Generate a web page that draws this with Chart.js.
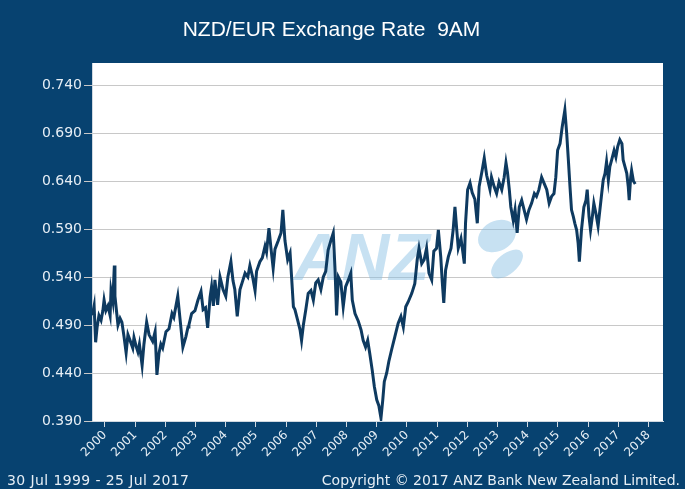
<!DOCTYPE html>
<html>
<head>
<meta charset="utf-8">
<script src="https://cdn.jsdelivr.net/npm/chart.js@4"></script>
<style>
  body { margin: 0; background: #074270; }
  #wrap { position: relative; width: 685px; height: 489px; }
  .foot { position: absolute; top: 472px; font: 14px "DejaVu Sans", sans-serif; color: #e6eef5; white-space: nowrap; }
</style>
</head>
<body>
<div id="wrap">
  <canvas id="rateChart" width="685" height="489"></canvas>
  <div class="foot" style="left:7px; letter-spacing:0.4px">30 Jul 1999 - 25 Jul 2017</div>
  <div class="foot" style="right:5px">Copyright © 2017 ANZ Bank New Zealand Limited.</div>
</div>
<script>
// decimal years, with the NZD/EUR rate at each
const years = [
  1999.58, 1999.64, 1999.69, 1999.74, 1999.80, 1999.87, 1999.93, 1999.97, 2000.03, 2000.10,
  2000.17, 2000.20, 2000.26, 2000.31, 2000.33, 2000.39, 2000.43, 2000.50, 2000.56, 2000.63,
  2000.70, 2000.76, 2000.83, 2000.92, 2000.96, 2001.03, 2001.09, 2001.14, 2001.23, 2001.29,
  2001.38, 2001.46, 2001.58, 2001.66, 2001.72, 2001.79, 2001.85, 2001.91, 2002.02, 2002.12,
  2002.22, 2002.28, 2002.41, 2002.48, 2002.58, 2002.68, 2002.75, 2002.78,
  2002.87, 2002.98, 2003.08, 2003.18, 2003.25, 2003.33, 2003.40, 2003.48, 2003.53, 2003.59,
  2003.64, 2003.73, 2003.81, 2003.91, 2004.00, 2004.07, 2004.17, 2004.24, 2004.30, 2004.38,
  2004.47, 2004.55, 2004.64, 2004.73, 2004.80, 2004.89, 2004.97, 2005.02, 2005.13, 2005.21,
  2005.30, 2005.35, 2005.43, 2005.50, 2005.57, 2005.63, 2005.74, 2005.83, 2005.89, 2005.96,
  2006.05, 2006.13,
  2006.18, 2006.24, 2006.29, 2006.38, 2006.46, 2006.51, 2006.57, 2006.65, 2006.73, 2006.82,
  2006.90, 2006.98, 2007.06, 2007.15, 2007.23, 2007.31, 2007.39, 2007.48, 2007.56, 2007.62,
  2007.67, 2007.73, 2007.81, 2007.89, 2007.97, 2008.06, 2008.14, 2008.19, 2008.28, 2008.39,
  2008.48, 2008.55, 2008.63, 2008.70, 2008.77, 2008.85, 2008.92, 2009.00, 2009.07, 2009.14,
  2009.20, 2009.25, 2009.33, 2009.40,
  2009.49, 2009.60, 2009.71, 2009.80, 2009.88, 2009.96, 2010.04, 2010.16, 2010.26, 2010.34,
  2010.40, 2010.49, 2010.57, 2010.65, 2010.73, 2010.82, 2010.89, 2010.98, 2011.04, 2011.12,
  2011.17, 2011.22, 2011.28, 2011.37, 2011.46, 2011.53, 2011.59, 2011.65, 2011.70, 2011.79,
  2011.86, 2011.90, 2011.94, 2012.01, 2012.09, 2012.16, 2012.25, 2012.33, 2012.39, 2012.49,
  2012.56, 2012.64, 2012.75,
  2012.80, 2012.89, 2012.97, 2013.05, 2013.14, 2013.22, 2013.28, 2013.33, 2013.39, 2013.44,
  2013.52, 2013.58, 2013.65, 2013.72, 2013.80, 2013.88, 2013.96, 2014.04, 2014.13, 2014.22,
  2014.29, 2014.37, 2014.46, 2014.55, 2014.63, 2014.71, 2014.79, 2014.87, 2014.93, 2014.99,
  2015.07, 2015.14, 2015.23, 2015.29, 2015.34, 2015.40, 2015.45, 2015.51, 2015.56, 2015.62,
  2015.67, 2015.71, 2015.78, 2015.86,
  2015.93, 2015.97, 2016.03, 2016.08, 2016.14, 2016.19, 2016.26, 2016.33, 2016.39, 2016.45,
  2016.50, 2016.56, 2016.61, 2016.67, 2016.72, 2016.78, 2016.86, 2016.92, 2016.98, 2017.05,
  2017.12, 2017.16, 2017.22, 2017.28, 2017.33, 2017.36, 2017.41, 2017.44, 2017.50, 2017.56
];
const rates = [
  0.500, 0.510, 0.472, 0.488, 0.500, 0.495, 0.505, 0.516, 0.505, 0.510,
  0.500, 0.526, 0.515, 0.552, 0.520, 0.502, 0.490, 0.497, 0.493, 0.478,
  0.461, 0.480, 0.474, 0.466, 0.477, 0.468, 0.462, 0.470, 0.448, 0.470,
  0.493, 0.480, 0.473, 0.483, 0.438, 0.461, 0.470, 0.466, 0.483, 0.486,
  0.502, 0.498, 0.520, 0.498, 0.467, 0.478, 0.488, 0.490,
  0.502, 0.505, 0.516, 0.525, 0.506, 0.508, 0.487, 0.519, 0.530, 0.510,
  0.537, 0.511, 0.540, 0.527, 0.520, 0.540, 0.556, 0.536, 0.527, 0.499,
  0.527, 0.535, 0.544, 0.540, 0.552, 0.540, 0.526, 0.546, 0.556, 0.560,
  0.572, 0.566, 0.591, 0.569, 0.549, 0.569, 0.578, 0.586, 0.610, 0.578,
  0.558, 0.565,
  0.540, 0.509, 0.506, 0.495, 0.485, 0.474, 0.490, 0.506, 0.523, 0.526,
  0.516, 0.534, 0.537, 0.527, 0.540, 0.546, 0.568, 0.578, 0.586, 0.547,
  0.500, 0.540, 0.535, 0.509, 0.530, 0.537, 0.544, 0.516, 0.502, 0.494,
  0.485, 0.474, 0.467, 0.474, 0.460, 0.443, 0.426, 0.412, 0.406, 0.393,
  0.412, 0.431, 0.440, 0.452,
  0.464, 0.478, 0.492, 0.499, 0.488, 0.509, 0.514, 0.523, 0.533, 0.558,
  0.570, 0.554, 0.558, 0.570, 0.544, 0.537, 0.567, 0.570, 0.589, 0.561,
  0.535, 0.513, 0.547, 0.561, 0.570, 0.589, 0.613, 0.589, 0.570, 0.580,
  0.564, 0.554, 0.596, 0.631, 0.638, 0.628, 0.621, 0.596, 0.634, 0.651,
  0.664, 0.646, 0.631,
  0.644, 0.634, 0.627, 0.639, 0.631, 0.644, 0.659, 0.649, 0.631, 0.613,
  0.599, 0.610, 0.586, 0.613, 0.620, 0.610, 0.600, 0.610, 0.617, 0.627,
  0.624, 0.631, 0.644, 0.637, 0.631, 0.617, 0.624, 0.627, 0.644, 0.672,
  0.679, 0.696, 0.714, 0.690, 0.665, 0.634, 0.610, 0.603, 0.596, 0.589,
  0.575, 0.556, 0.589, 0.613,
  0.620, 0.631, 0.603, 0.589, 0.603, 0.617, 0.606, 0.593, 0.610, 0.627,
  0.641, 0.648, 0.660, 0.641, 0.655, 0.662, 0.672, 0.665, 0.676, 0.683,
  0.679, 0.662, 0.655, 0.648, 0.634, 0.620, 0.644, 0.651, 0.640, 0.637
];
const yTicks = [0.390, 0.440, 0.490, 0.540, 0.590, 0.640, 0.690, 0.740];
const xTicks = [2000, 2001, 2002, 2003, 2004, 2005, 2006, 2007, 2008, 2009,
                2010, 2011, 2012, 2013, 2014, 2015, 2016, 2017, 2018];

const NAVY = '#074270';
const FONT = '"DejaVu Sans", sans-serif';

const backdrop = {
  id: 'backdrop',
  beforeDraw(chart) {
    const { ctx, chartArea: a } = chart;
    ctx.save();
    ctx.fillStyle = NAVY;
    ctx.fillRect(0, 0, chart.width, chart.height);
    ctx.fillStyle = '#ffffff';
    ctx.fillRect(a.left, a.top, a.right - a.left, a.bottom - a.top);
    ctx.restore();
  },
  beforeDatasetsDraw(chart) {
    // faint ANZ watermark
    const { ctx, chartArea: a } = chart;
    ctx.save();
    ctx.beginPath();
    ctx.rect(a.left, a.top, a.right - a.left, a.bottom - a.top);
    ctx.clip();
    ctx.fillStyle = 'rgba(130, 188, 226, 0.45)';
    ctx.font = 'italic bold 66px "Liberation Sans", Arial, sans-serif';
    ctx.textBaseline = 'alphabetic';
    ctx.fillText('ANZ', 294, 280);
    ctx.beginPath();
    ctx.ellipse(497, 236, 20, 15, -0.5, 0, Math.PI * 2);
    ctx.fill();
    ctx.beginPath();
    ctx.ellipse(507, 264, 19, 10, -0.7, 0, Math.PI * 2);
    ctx.fill();
    ctx.restore();
  }
};

new Chart(document.getElementById('rateChart'), {
  type: 'line',
  data: {
    datasets: [{
      data: years.map((y, i) => ({ x: y, y: rates[i] })),
      borderColor: '#0e3a60',
      borderWidth: 3,
      pointRadius: 0,
      tension: 0
    }]
  },
  options: {
    responsive: false,
    animation: false,
    layout: { padding: { left: 0, right: 22, top: 0, bottom: 0 } },
    plugins: {
      legend: { display: false },
      tooltip: { enabled: false },
      title: {
        display: true,
        text: 'NZD/EUR Exchange Rate  9AM',
        color: '#ffffff',
        font: { family: '"Liberation Sans", Arial, sans-serif', size: 21, weight: 'normal' },
        padding: { top: 18, bottom: 19.8 }
      }
    },
    scales: {
      x: {
        type: 'linear',
        min: 1999.57,
        max: 2018.48,
        afterBuildTicks: s => { s.ticks = xTicks.map(v => ({ value: v })); },
        afterFit: s => { s.height = 68; },
        border: { color: '#d0d8e0' },
        grid: { drawOnChartArea: false, drawTicks: true, tickLength: 6, color: '#d0d8e0' },
        ticks: {
          autoSkip: false,
          minRotation: 45,
          maxRotation: 45,
          padding: 1,
          color: '#e6eef5',
          font: { family: FONT, size: 12 },
          callback: v => String(v)
        }
      },
      y: {
        min: 0.39,
        max: 0.763,
        afterBuildTicks: s => { s.ticks = yTicks.map(v => ({ value: v })); },
        afterFit: s => { s.width = 92; },
        border: { color: '#d0d8e0' },
        grid: { color: '#c8c8c8', tickLength: 8, lineWidth: 1 },
        ticks: {
          padding: 2,
          color: '#e6eef5',
          font: { family: FONT, size: 14 },
          callback: v => v.toFixed(3)
        }
      }
    }
  },
  plugins: [backdrop]
});
</script>
</body>
</html>
